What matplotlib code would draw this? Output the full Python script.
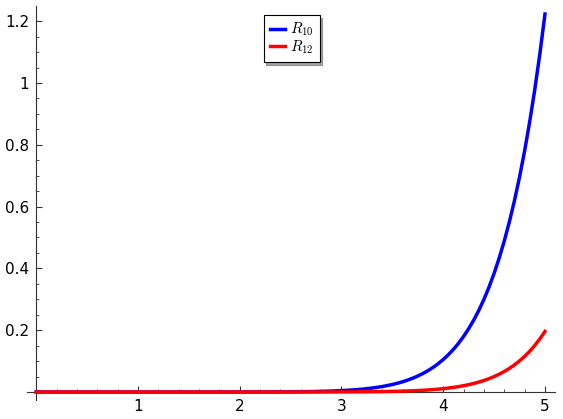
import matplotlib
matplotlib.use('Agg')
import matplotlib.pyplot as plt
from matplotlib.ticker import FixedLocator

plt.rcParams['mathtext.fontset'] = 'cm'

# values (remainder terms R_10, R_12)
x = [0.0, 0.5, 1.0, 1.5, 2.0, 2.25, 2.5, 2.6, 2.7, 2.8, 2.9,
     3.0, 3.1, 3.2, 3.3, 3.4, 3.5, 3.55, 3.6, 3.65, 3.7, 3.75, 3.8, 3.85, 3.9, 3.95,
     4.0, 4.05, 4.1, 4.15, 4.2, 4.25, 4.3, 4.35, 4.4, 4.45, 4.5, 4.55,
     4.6, 4.65, 4.7, 4.75, 4.8, 4.85, 4.9, 4.95, 5.0]
r10 = [0.0, 0.0, 0.0, 0.000002, 0.000051, 0.000187, 0.000597, 0.000919, 0.001393, 0.002078, 0.003057,
       0.004438, 0.006365, 0.009026, 0.012662, 0.017583, 0.024187, 0.028272, 0.032974, 0.038377,
       0.044572, 0.051662, 0.059768, 0.069010, 0.079536, 0.091499,
       0.105076, 0.120464, 0.137865, 0.157533, 0.179716, 0.204706, 0.232810, 0.264381,
       0.299797, 0.339477, 0.383870, 0.433479, 0.488851, 0.550599, 0.619326, 0.695794,
       0.780729, 0.874971, 0.979479, 1.095306, 1.223241]
r12 = [0.0, 0.0, 0.0, 0.0, 0.000001, 0.000006, 0.000024, 0.000040, 0.000065, 0.000104, 0.000165,
       0.000256, 0.000392, 0.000592, 0.000884, 0.001303, 0.001899, 0.002284, 0.002739, 0.003277,
       0.003911, 0.004657, 0.005532, 0.006557, 0.007755, 0.009151,
       0.010777, 0.012666, 0.014856, 0.017392, 0.020322, 0.023702, 0.027594, 0.032069,
       0.037206, 0.043093, 0.049829, 0.057526, 0.066309, 0.076316, 0.087699, 0.100633,
       0.115308, 0.131933, 0.150750, 0.172036, 0.196032]

xticks = [1, 2, 3, 4, 5]
xlabels = ['1', '2', '3', '4', '5']
xminor = [0.2, 0.4, 0.6, 0.8, 1.2, 1.4, 1.6, 1.8, 2.2, 2.4, 2.6, 2.8,
          3.2, 3.4, 3.6, 3.8, 4.2, 4.4, 4.6, 4.8]
yticks = [0.2, 0.4, 0.6, 0.8, 1.0, 1.2]
ylabels = ['0.2', '0.4', '0.6', '0.8', '1', '1.2']
yminor = [0.05, 0.1, 0.15, 0.25, 0.3, 0.35, 0.45, 0.5, 0.55, 0.65, 0.7, 0.75,
          0.85, 0.9, 0.95, 1.05, 1.1, 1.15]

fig = plt.figure(figsize=(5.63, 4.19), dpi=100)
ax = fig.add_axes([0, 0, 1, 1])

ax.plot(x, r10, color='blue', lw=2.5, label='$R_{10}$', zorder=3)
ax.plot(x, r12, color='red', lw=2.5, label='$R_{12}$', zorder=3)

ax.set_xlim(-0.356, 5.177)
ax.set_ylim(-0.0874, 1.2686)

for side in ['top', 'right']:
    ax.spines[side].set_visible(False)
ax.spines['left'].set_position(('data', 0))
ax.spines['bottom'].set_position(('data', 0))
ax.spines['left'].set_bounds(-0.026, 1.25)
ax.spines['bottom'].set_bounds(-0.09, 5.1)
ax.spines['left'].set_color('#333333')
ax.spines['bottom'].set_color('#333333')

ax.xaxis.set_major_locator(FixedLocator(xticks))
ax.set_xticklabels(xlabels)
ax.xaxis.set_minor_locator(FixedLocator(xminor))
ax.yaxis.set_major_locator(FixedLocator(yticks))
ax.set_yticklabels(ylabels)
ax.yaxis.set_minor_locator(FixedLocator(yminor))
ax.tick_params(which='both', direction='in', colors='#333333', labelcolor='black', labelsize=11)
ax.tick_params(which='major', length=4, pad=5)
ax.tick_params(which='minor', length=2)

leg = ax.legend(loc='upper center', bbox_to_anchor=(0.518, 0.983), fancybox=False, shadow=True,
                fontsize=11, handlelength=1.0, handletextpad=0.3, borderpad=0.4,
                labelspacing=0.0, edgecolor='black')
leg.get_frame().set_linewidth(0.8)

fig.savefig('out.png', dpi=100)
